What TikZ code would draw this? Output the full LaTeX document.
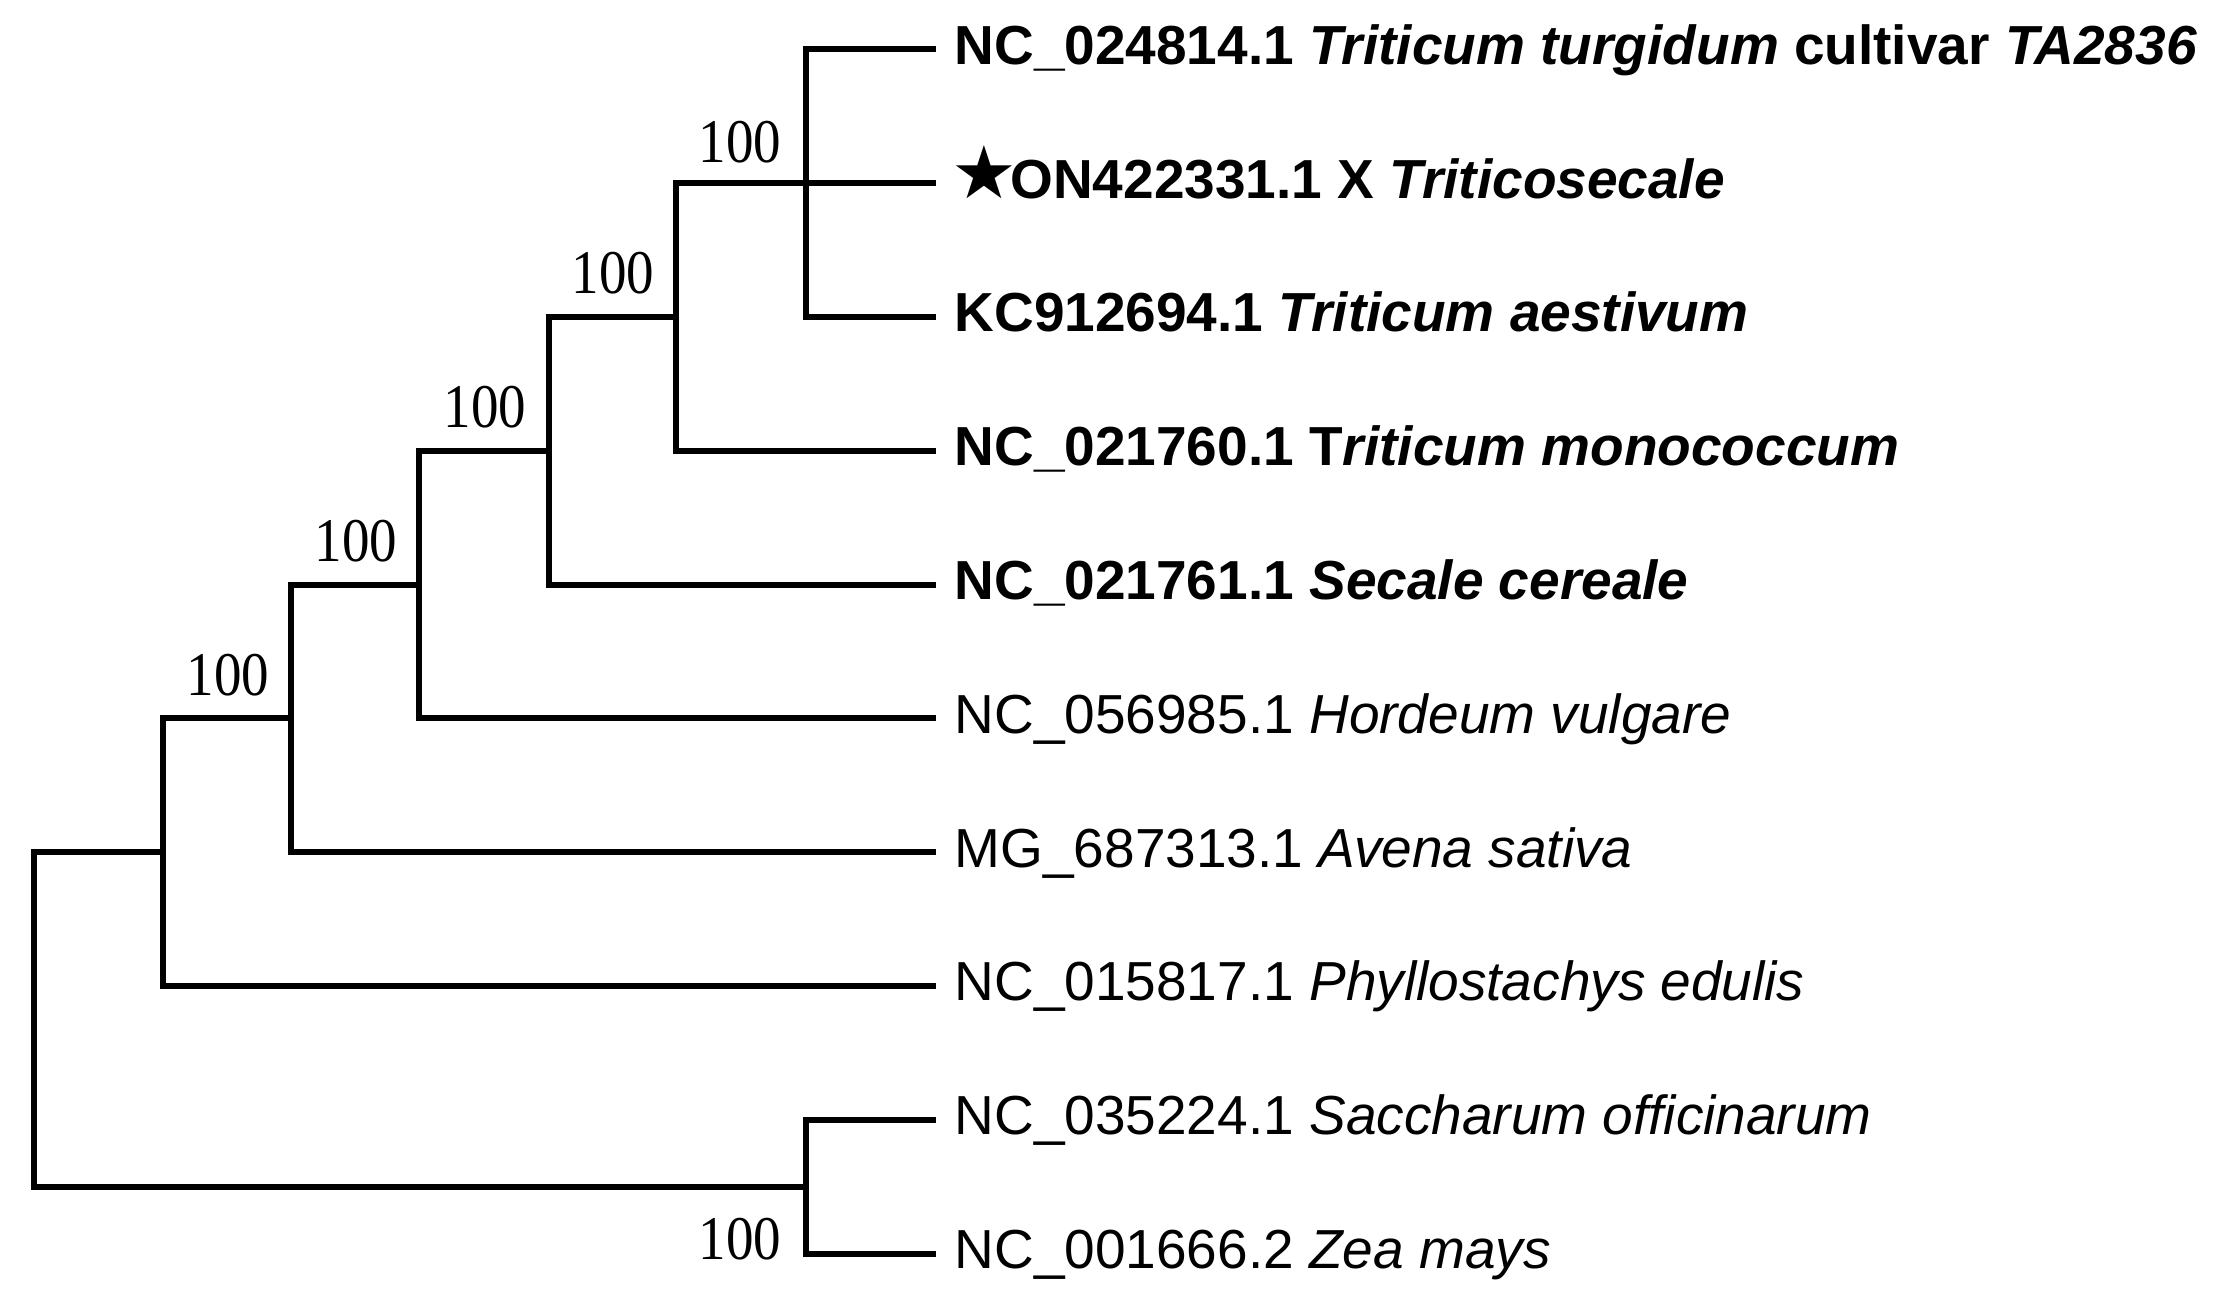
\documentclass[tikz,border=0pt]{standalone}
\usepackage{fontspec}
\usepackage{graphicx}
\setmainfont{Liberation Sans}
\newfontfamily\serifnum{Liberation Serif}
\newfontfamily\starfont{DejaVu Sans}
\usetikzlibrary{calc}
\newcommand{\leaffont}{\fontsize{16.5}{18}\selectfont}
\newcommand{\bootfont}{\serifnum\fontsize{16.5}{18}\selectfont}
\newcommand{\bootval}{\scalebox{1}[1.13]{100}}
\newcommand{\bigstar}{{\starfont\fontsize{22}{24}\selectfont\kern-1pt ★}\kern-2pt}
\begin{document}
\begin{tikzpicture}[x=0.3pt,y=-0.3pt,
  branch/.style={line width=1.8pt, line join=miter, line cap=butt},
  leaf/.style={anchor=base west, inner sep=0pt, font=\leaffont},
  boot/.style={anchor=base east, inner sep=0pt, font=\bootfont}]
\useasboundingbox (0,0) rectangle (2228,1310);
% leaf ends
\coordinate (L1) at (936,49.3);
\coordinate (L2) at (936,183.1);
\coordinate (L3) at (936,316.9);
\coordinate (L4) at (936,450.7);
\coordinate (L5) at (936,584.5);
\coordinate (L6) at (936,718.3);
\coordinate (L7) at (936,852.1);
\coordinate (L8) at (936,985.9);
\coordinate (L9) at (936,1119.7);
\coordinate (L10) at (936,1253.5);
% internal nodes
\coordinate (N1) at (806,183.1);
\coordinate (N2) at (676,316.9);
\coordinate (N3) at (549,450.7);
\coordinate (N4) at (419,584.5);
\coordinate (N5) at (291,718.3);
\coordinate (N6) at (163,852.1);
\coordinate (N7) at (806,1186.6);
\coordinate (R) at (34,1019.35);
% branches
\draw[branch] (L1) -| (N1) |- (L3);
\draw[branch] (N1) -- (L2);
\draw[branch] (N1) -| (N2) |- (L4);
\draw[branch] (N2) -| (N3) |- (L5);
\draw[branch] (N3) -| (N4) |- (L6);
\draw[branch] (N4) -| (N5) |- (L7);
\draw[branch] (N5) -| (N6) |- (L8);
\draw[branch] (L9) -| (N7) |- (L10);
\draw[branch] (N6) -| (R) |- (N7);
% bootstrap values
\node[boot] (B1) at ($(N1)+(-24,-21)$) {\bootval};
\node[boot] (B2) at ($(N2)+(-21,-23)$) {\bootval};
\node[boot] (B3) at ($(N3)+(-22,-23)$) {\bootval};
\node[boot] (B4) at ($(N4)+(-21,-23)$) {\bootval};
\node[boot] (B5) at ($(N5)+(-21,-23)$) {\bootval};
\node[boot] (B6) at ($(N7)+(-24,73)$) {\bootval};
% leaf labels
\node[leaf] (T1) at ($(L1)+(18,15)$) {\bfseries NC\_024814.1 \textit{Triticum turgidum} cultivar \textit{TA2836}};
\node[leaf] (T2) at ($(L2)+(18,15)$) {\bfseries\bigstar ON422331.1 X \textit{Triticosecale}};
\node[leaf] (T3) at ($(L3)+(18,15)$) {\bfseries KC912694.1 \textit{Triticum aestivum}};
\node[leaf] (T4) at ($(L4)+(18,15)$) {\bfseries NC\_021760.1 T\textit{riticum monococcum}};
\node[leaf] (T5) at ($(L5)+(18,15)$) {\bfseries NC\_021761.1 \textit{Secale cereale}};
\node[leaf] (T6) at ($(L6)+(18,15)$) {NC\_056985.1 \textit{Hordeum vulgare}};
\node[leaf] (T7) at ($(L7)+(18,15)$) {MG\_687313.1 \textit{Avena sativa}};
\node[leaf] (T8) at ($(L8)+(18,15)$) {NC\_015817.1 \textit{Phyllostachys edulis}};
\node[leaf] (T9) at ($(L9)+(18,15)$) {NC\_035224.1 \textit{Saccharum officinarum}};
\node[leaf] (T10) at ($(L10)+(18,15)$) {NC\_001666.2 \textit{Zea mays}};
\end{tikzpicture}
\end{document}
